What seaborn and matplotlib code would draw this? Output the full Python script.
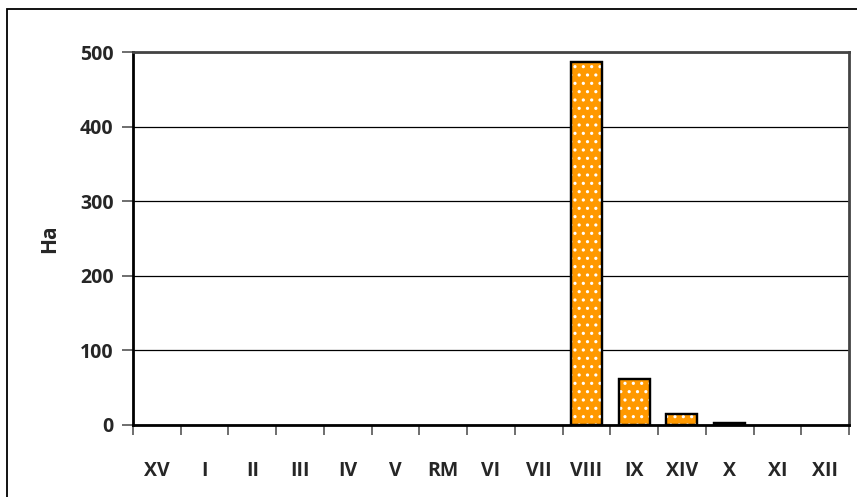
import matplotlib
matplotlib.use("Agg")
import matplotlib.pyplot as plt
from matplotlib.patches import Rectangle
import seaborn as sns
import pandas as pd

categories = ["XV", "I", "II", "III", "IV", "V", "RM", "VI", "VII",
              "VIII", "IX", "XIV", "X", "XI", "XII"]
hectares = [0, 0, 0, 0, 0, 0, 0, 0, 0, 486, 61, 15, 3, 0, 0]
y_ticks = [0, 100, 200, 300, 400, 500]

sns.set_theme(style="white")
plt.rcParams["font.family"] = ["Open Sans", "DejaVu Sans"]
plt.rcParams["font.weight"] = "bold"
plt.rcParams["hatch.linewidth"] = 1.1

df = pd.DataFrame({"region": categories, "ha": hectares})

fig = plt.figure(figsize=(8.57, 4.97), dpi=100)
ax = fig.add_axes([133 / 857, 1 - 425 / 497, (849 - 133) / 857, (425 - 52) / 497])

sns.barplot(data=df, x="region", y="ha", order=categories, ax=ax,
            color="#FF9900", saturation=1, width=0.65,
            edgecolor="black", linewidth=1.6)

# white dotted pattern over the orange fill; empty bars are not drawn
for bar in list(ax.patches):
    if bar.get_height() <= 0:
        bar.set_visible(False)
        continue
    x0, y0 = bar.get_xy()
    ax.add_patch(Rectangle((x0, y0), bar.get_width(), bar.get_height(),
                           facecolor="none", edgecolor="white", hatch="..",
                           linewidth=0, zorder=bar.get_zorder() + 0.1))
    ax.add_patch(Rectangle((x0, y0), bar.get_width(), bar.get_height(),
                           facecolor="none", edgecolor="black",
                           linewidth=1.6, zorder=bar.get_zorder() + 0.2))

ax.set_xlim(-0.5, len(categories) - 0.5)
ax.set_ylim(0, 500)
ax.set_yticks(y_ticks)
ax.yaxis.grid(True, color="black", linewidth=0.9)
ax.set_axisbelow(True)

ax.set_xlabel("")
ax.set_ylabel("Ha", fontsize=15, fontweight="bold", labelpad=14)

# category separators as outward ticks, labels centred beneath
ax.set_xticks([i - 0.5 for i in range(len(categories) + 1)], minor=True)
ax.tick_params(axis="x", which="minor", length=7, width=1.2,
               color="#555555", direction="out", bottom=True)
ax.tick_params(axis="x", which="major", length=0, pad=26,
               labelsize=14, bottom=True)
ax.tick_params(axis="y", length=8, width=1.2, color="#555555",
               direction="out", left=True, labelsize=14, pad=6)
for lab in ax.get_xticklabels() + ax.get_yticklabels():
    lab.set_fontweight("bold")

for side in ["left", "bottom"]:
    ax.spines[side].set_color("black")
    ax.spines[side].set_linewidth(2)
for side in ["right", "top"]:
    ax.spines[side].set_color("#444444")
    ax.spines[side].set_linewidth(2)

# outer chart frame
fig.patches.append(Rectangle((7 / 857, -0.1), 1.2, 1 - 9 / 497 + 0.1,
                             transform=fig.transFigure, fill=False,
                             edgecolor="black", linewidth=1.3))

fig.savefig("out.png", dpi=100)
